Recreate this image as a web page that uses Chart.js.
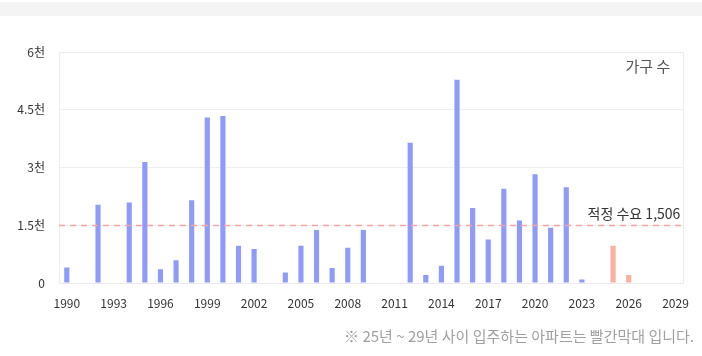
<!DOCTYPE html>
<html>
<head>
<meta charset="utf-8">
<script src="https://cdn.jsdelivr.net/npm/chart.js@4/dist/chart.umd.min.js"></script>
<style>
  html, body { margin: 0; padding: 0; background: #fff; }
  #wrap { position: relative; width: 702px; height: 356px; overflow: hidden; font-family: "Noto Sans CJK KR", "Noto Sans", sans-serif; }
  #band { position: absolute; left: 0; top: 2px; width: 702px; height: 14px; background: #f4f4f4; }
  #note { position: absolute; right: 8px; top: 325px; font-size: 15px; color: #a0a0a0; white-space: nowrap; }
  canvas { position: absolute; left: 0; top: 0; }
</style>
</head>
<body>
<div id="wrap">
  <div id="band"></div>
  <canvas id="c" width="702" height="356"></canvas>
  <div id="note">※ 25년 ~ 29년 사이 입주하는 아파트는 빨간막대 입니다.</div>
</div>
<script>
const years = ['1990','1991','1992','1993','1994','1995','1996','1997','1998','1999',
  '2000','2001','2002','2003','2004','2005','2006','2007','2008','2009',
  '2010','2011','2012','2013','2014','2015','2016','2017','2018','2019',
  '2020','2021','2022','2023','2024','2025','2026','2027','2028','2029'];
const households = [400, 0, 2030, 0, 2090, 3140, 360, 590, 2150, 4300,
  4335, 970, 880, 0, 270, 970, 1375, 390, 915, 1375,
  0, 0, 3645, 210, 450, 5280, 1950, 1130, 2445, 1625,
  2825, 1435, 2490, 90, 0, 970, 210, 0, 0, 0];
const futureFrom = 2025;
const demand = 1506;
const demandLabel = '적정 수요 1,506';
const unitLabel = '가구 수';
const yTickValues = [0, 1500, 3000, 4500, 6000];
const yTickLabels = ['0', '1.5천', '3천', '4.5천', '6천'];

const colors = years.map(y => (+y >= futureFrom ? '#fbaea2' : '#8e9bf8'));

const overlay = {
  id: 'overlay',
  beforeDatasetsDraw(chart) {
    const { ctx, chartArea: a } = chart;
    ctx.save();
    ctx.strokeStyle = '#ececec';
    ctx.lineWidth = 1;
    ctx.strokeRect(Math.round(a.left) + 0.5, Math.round(a.top) + 0.5, Math.round(a.right - a.left), Math.round(a.bottom - a.top));
    ctx.restore();
  },
  afterDatasetsDraw(chart) {
    const { ctx, chartArea: a, scales } = chart;
    const y = Math.round(scales.y.getPixelForValue(demand)) + 0.5;
    ctx.save();
    ctx.strokeStyle = '#f6a3a3';
    ctx.lineWidth = 1.5;
    ctx.setLineDash([6, 5]);
    ctx.beginPath();
    ctx.moveTo(a.left, y);
    ctx.lineTo(a.right, y);
    ctx.stroke();
    ctx.setLineDash([]);
    ctx.font = '14px "Noto Sans CJK KR", sans-serif';
    ctx.fillStyle = '#333';
    ctx.textAlign = 'right';
    ctx.textBaseline = 'alphabetic';
    ctx.fillText(demandLabel, a.right - 3, y - 7);
    ctx.fillStyle = '#555';
    ctx.font = '15px "Noto Sans CJK KR", sans-serif';
    ctx.fillText(unitLabel, a.right - 13, a.top + 20);
    ctx.restore();
  }
};

new Chart(document.getElementById('c'), {
  type: 'bar',
  data: {
    labels: years,
    datasets: [{ data: households, backgroundColor: colors, borderWidth: 0,
      categoryPercentage: 1, barPercentage: 0.33 }]
  },
  options: {
    responsive: false,
    animation: false,
    events: [],
    layout: { padding: { left: 0, right: 12, top: 52, bottom: 40 } },
    plugins: { legend: { display: false }, tooltip: { enabled: false } },
    scales: {
      x: {
        grid: { display: false, drawTicks: false },
        border: { display: false },
        ticks: {
          autoSkip: false, maxRotation: 0, minRotation: 0, padding: 13,
          color: '#333', font: { family: '"Noto Sans CJK KR", sans-serif', size: 12 },
          callback(v, i) { return i % 3 === 0 ? years[i] : ''; }
        },
        afterFit(s) { s.height = 33; }
      },
      y: {
        min: 0, max: 6000,
        grid: { color: '#efefef', drawTicks: false },
        border: { display: false },
        afterBuildTicks(s) { s.ticks = yTickValues.map(v => ({ value: v })); },
        ticks: {
          padding: 14, color: '#333',
          font: { family: '"Noto Sans CJK KR", sans-serif', size: 12 },
          callback(v) { const i = yTickValues.indexOf(v); return i >= 0 ? yTickLabels[i] : ''; }
        },
        afterFit(s) { s.width = 59; }
      }
    }
  },
  plugins: [overlay]
});
</script>
</body>
</html>
